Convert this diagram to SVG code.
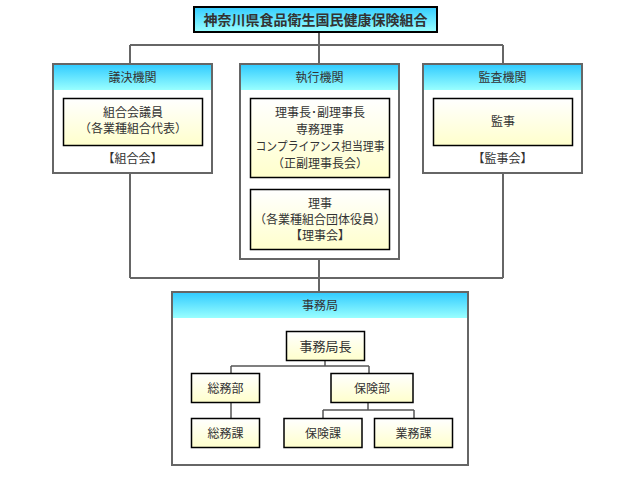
<svg xmlns="http://www.w3.org/2000/svg" width="620" height="477" viewBox="0 0 620 477">
<defs>
<linearGradient id="hdr" x1="0" y1="0" x2="0" y2="1">
<stop offset="0" stop-color="#33ccff"/>
<stop offset="1" stop-color="#99ffff"/>
</linearGradient>
<linearGradient id="yel" x1="0" y1="0" x2="0" y2="1">
<stop offset="0" stop-color="#ffffff"/>
<stop offset="1" stop-color="#ffffcc"/>
</linearGradient>
</defs>
<style>
text{font-family:"Noto Sans CJK JP","Noto Sans",sans-serif;fill:#333;text-anchor:middle;font-size:12px}
.title{font-size:14px;font-weight:bold}
.outer{fill:#fff;stroke:#666;stroke-width:2}
.head{fill:url(#hdr)}
.inner{fill:url(#yel);stroke:#000;stroke-width:1.5}
.ln{fill:none;stroke:#666;stroke-width:2}
.ln2{fill:none;stroke:#555;stroke-width:1.5}
</style>
<g id="title">
<rect x="194" y="7" width="243" height="25" fill="url(#hdr)" stroke="#000" stroke-width="2"/>
<text class="title" x="315.5" y="25">神奈川県食品衛生国民健康保険組合</text>
</g>
<g id="giketsu">
<rect class="outer" x="53" y="64" width="159" height="109"/>
<rect class="head" x="54" y="65" width="157" height="25"/>
<text x="132.5" y="82">議決機関</text>
<rect class="inner" x="63.5" y="98.5" width="139" height="47"/>
<text x="133" y="117">組合会議員</text>
<text x="133" y="133">（各業種組合代表）</text>
<text x="132.5" y="162.5">【組合会】</text>
</g>
<g id="shikko">
<rect class="outer" x="240" y="64" width="159" height="195"/>
<rect class="head" x="241" y="65" width="157" height="25"/>
<text x="319.5" y="82">執行機関</text>
<rect class="inner" x="250.5" y="98.5" width="139" height="79"/>
<text x="320" y="117">理事長･副理事長</text>
<text x="320" y="134">専務理事</text>
<text x="320" y="151" textLength="129" lengthAdjust="spacingAndGlyphs">コンプライアンス担当理事</text>
<text x="320" y="167.5">（正副理事長会）</text>
<rect class="inner" x="250.5" y="189.5" width="139" height="60"/>
<text x="320" y="208">理事</text>
<text x="320" y="224">（各業種組合団体役員）</text>
<text x="320" y="239.5">【理事会】</text>
</g>
<g id="kansa">
<rect class="outer" x="423" y="64" width="159" height="109"/>
<rect class="head" x="424" y="65" width="157" height="25"/>
<text x="502.5" y="82">監査機関</text>
<rect class="inner" x="433.5" y="98.5" width="139" height="47"/>
<text x="503" y="126">監事</text>
<text x="502.5" y="162.5">【監事会】</text>
</g>
<g id="jimukyoku">
<rect class="outer" x="172" y="292" width="296" height="173"/>
<rect class="head" x="173" y="293" width="294" height="25"/>
<text x="320" y="310">事務局</text>
</g>
<g id="connectors">
<path class="ln" d="M319 33V45M130 45H503M130 45V64M319 45V64M503 45V64"/>
<path class="ln" d="M130 173V278M503 173V278M130 278H503M319 259V292"/>
<path class="ln2" d="M325 360V366M231 366H369M231 366V373M369 366V373M231 402V418M368 402V410M323 410H414M323 410V418M414 410V418"/>
</g>
<g id="kyokucho">
<rect class="inner" x="286.5" y="331.5" width="78" height="29"/>
<text x="325.5" y="351" style="font-size:13px">事務局長</text>
</g>
<g id="somubu">
<rect class="inner" x="191.5" y="373.5" width="68" height="29"/>
<text x="225.5" y="392.5">総務部</text>
</g>
<g id="hokenbu">
<rect class="inner" x="331" y="373.5" width="82" height="29"/>
<text x="372" y="392.5">保険部</text>
</g>
<g id="somuka">
<rect class="inner" x="191.5" y="418.5" width="68" height="29"/>
<text x="225.5" y="437.5">総務課</text>
</g>
<g id="hokenka">
<rect class="inner" x="284" y="418.5" width="78" height="29"/>
<text x="323" y="437.5">保険課</text>
</g>
<g id="gyomuka">
<rect class="inner" x="374.5" y="418.5" width="78" height="29"/>
<text x="413.5" y="437.5">業務課</text>
</g>
</svg>
